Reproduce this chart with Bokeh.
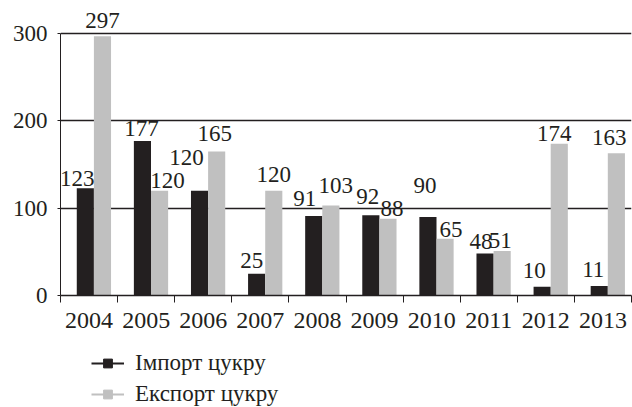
import numpy as np
from bokeh.plotting import figure
from bokeh.layouts import column
from bokeh.models import (Range1d, FixedTicker, ColumnDataSource, LabelSet,
                          Legend, LegendItem)
from bokeh.core.properties import value
from bokeh.embed import file_html
from bokeh.resources import INLINE

years = ["2004", "2005", "2006", "2007", "2008", "2009", "2010", "2011", "2012", "2013"]
import_sugar = [123, 177, 120, 25, 91, 92, 90, 48, 10, 11]
export_sugar = [297, 120, 165, 120, 103, 88, 65, 51, 174, 163]
y_ticks = [0, 100, 200, 300]
series_names = ["Імпорт цукру", "Експорт цукру"]

# manual nudges of the value labels (screen px), as in the original chart
imp_label_dx = [-8, -1, -13, -5, -9, -3, -3, -4, -8, -6]
imp_label_dy = [2, 5, 26, 6, 10, 11, 24, 5, 9, 9]
exp_label_dx = [0, 8, -2, 0, 5, 4, 6, -2, -5, -7]
exp_label_dy = [8, 3, 10, 9, 13, 3, 2, 3, 3, 8]

DARK = "#231f20"
GREY = "#c0c0c0"
FONT = "Liberation Serif"

n = len(years)
idx = np.arange(n)
src = ColumnDataSource(dict(
    x_imp=idx + 0.435, x_exp=idx + 0.735,
    imp=import_sugar, exp=export_sugar,
    imp_t=[str(v) for v in import_sugar], exp_t=[str(v) for v in export_sugar],
    imp_dx=imp_label_dx, imp_dy=imp_label_dy,
    exp_dx=exp_label_dx, exp_dy=exp_label_dy,
))

p = figure(width=632, height=345, output_backend="svg", toolbar_location=None,
           x_range=Range1d(0, n), y_range=Range1d(0, 338),
           min_border_left=60, min_border_right=1, min_border_top=0,
           min_border_bottom=50)
p.outline_line_color = None
p.background_fill_color = "white"
p.border_fill_color = "white"

p.vbar(x="x_imp", top="imp", width=0.3, bottom=0, source=src,
       fill_color=DARK, line_color=None)
p.vbar(x="x_exp", top="exp", width=0.3, bottom=0, source=src,
       fill_color=GREY, line_color=None)

# value labels
lab_imp = LabelSet(x="x_imp", y="imp", text="imp_t", source=src,
                   text_font=value(FONT), text_font_size=value("23px"),
                   text_color=DARK, text_align="center",
                   text_baseline="alphabetic", x_offset="imp_dx", y_offset="imp_dy")
lab_exp = LabelSet(x="x_exp", y="exp", text="exp_t", source=src,
                   text_font=value(FONT), text_font_size=value("23px"),
                   text_color=DARK, text_align="center",
                   text_baseline="alphabetic", x_offset="exp_dx", y_offset="exp_dy")
p.add_layout(lab_imp)
p.add_layout(lab_exp)

# y axis
p.yaxis.ticker = FixedTicker(ticks=y_ticks)
p.yaxis.bounds = (0, 300)
p.yaxis.axis_line_color = DARK
p.yaxis.major_tick_line_color = DARK
p.yaxis.major_tick_out = 3
p.yaxis.major_tick_in = 0
p.yaxis.minor_tick_line_color = None
p.yaxis.major_label_text_font = FONT
p.yaxis.major_label_text_font_size = "23px"
p.yaxis.major_label_text_color = DARK
p.yaxis.major_label_standoff = 10

p.ygrid.ticker = FixedTicker(ticks=y_ticks)
p.ygrid.grid_line_color = DARK
p.ygrid.grid_line_width = 1.4
p.xgrid.grid_line_color = None

# x axis: labels at category centres, tick marks at category boundaries
centers = [float(i) + 0.5 for i in idx]
p.xaxis.ticker = FixedTicker(ticks=centers, minor_ticks=[float(i) for i in range(n + 1)])
p.xaxis.major_label_overrides = {c: y for c, y in zip(centers, years)}
p.xaxis.axis_line_color = DARK
p.xaxis.axis_line_width = 1.4
p.xaxis.major_tick_line_color = None
p.xaxis.major_tick_out = 0
p.xaxis.major_tick_in = 0
p.xaxis.minor_tick_line_color = DARK
p.xaxis.minor_tick_out = 7
p.xaxis.minor_tick_in = 0
p.xaxis.major_label_text_font = FONT
p.xaxis.major_label_text_font_size = "24px"
p.xaxis.major_label_text_color = DARK
p.xaxis.major_label_standoff = 10

# legend figure (line with square marker), placed under the chart;
# the dummy renderers hold one point outside the visible range
pl = figure(width=632, height=62, output_backend="svg", toolbar_location=None,
            x_range=Range1d(0, 1), y_range=Range1d(0, 1),
            min_border=0, min_border_left=0, min_border_right=0,
            min_border_top=0, min_border_bottom=0)
pl.outline_line_color = None
pl.axis.visible = False
pl.grid.visible = False
l1 = pl.line(x=[-5, -4], y=[-5, -5], line_color=DARK, line_width=2)
s1 = pl.scatter(x=[-5], y=[-5], marker="square", fill_color=DARK, line_color=DARK)
l2 = pl.line(x=[-5, -4], y=[-5, -5], line_color=GREY, line_width=2)
s2 = pl.scatter(x=[-5], y=[-5], marker="square", fill_color=GREY, line_color=GREY)
legend = Legend(items=[LegendItem(label=series_names[0], renderers=[l1, s1]),
                       LegendItem(label=series_names[1], renderers=[l2, s2])],
                location=(31, 0), orientation="vertical",
                glyph_width=33, glyph_height=22, label_height=27,
                label_standoff=11, spacing=4, padding=0, margin=0,
                border_line_color=None, background_fill_alpha=0,
                label_text_font=FONT, label_text_font_size="23px",
                label_text_color=DARK, label_text_baseline="middle")
pl.add_layout(legend)

layout = column(p, pl, spacing=0)
open("out.html", "w").write(file_html(layout, INLINE))
